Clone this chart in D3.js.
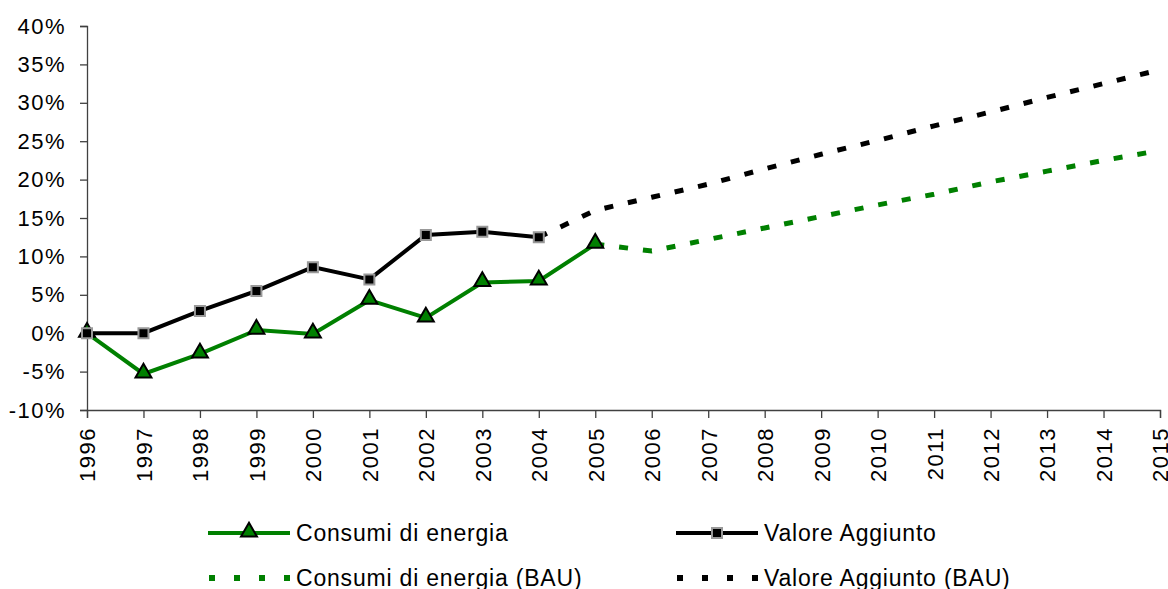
<!DOCTYPE html>
<html>
<head>
<meta charset="utf-8">
<script src="https://cdn.jsdelivr.net/npm/d3@7"></script>
<style>
  body { margin: 0; background: #fff; }
  text { font-family: "Liberation Sans", Arial, sans-serif; fill: #000; }
</style>
</head>
<body>
<div id="chart"></div>
<script>
// data
var years = ["1996","1997","1998","1999","2000","2001","2002","2003","2004","2005",
             "2006","2007","2008","2009","2010","2011","2012","2013","2014","2015"];

var consumiYears = years.slice(0, 10);
var consumi = [0, -5.3, -2.7, 0.4, -0.1, 4.3, 2.0, 6.6, 6.8, 11.6];

var valoreYears = years.slice(0, 9);
var valore = [0, 0, 2.9, 5.5, 8.6, 7.0, 12.8, 13.2, 12.5];

var consumiBauYears = years.slice(9);
var consumiBau = [11.6, 10.7, 12.2, 13.7, 15.2, 16.7, 18.1, 19.7, 21.1, 22.5, 23.8];

var valoreBauYears = years.slice(8);
var valoreBau = [12.5, 16.0, 17.7, 19.4, 21.4, 23.3, 25.1, 27.0, 28.8, 30.7, 32.5, 34.3];

var yTicks = [-10, -5, 0, 5, 10, 15, 20, 25, 30, 35, 40];

var legendNames = ["Consumi di energia", "Valore Aggiunto",
                   "Consumi di energia (BAU)", "Valore Aggiunto (BAU)"];

var green = "#008000";

var width = 1168, height = 589;
var margin = {top: 26, left: 87, right: 8, bottom: 179};

var svg = d3.select("#chart").append("svg")
    .attr("width", width)
    .attr("height", height);

var x = d3.scalePoint()
    .domain(years)
    .range([margin.left, width - margin.right]);

var y = d3.scaleLinear()
    .domain([-10, 40])
    .range([height - margin.bottom, margin.top]);

// axes
var yAxis = d3.axisLeft(y)
    .tickValues(yTicks)
    .tickSize(7)
    .tickPadding(14)
    .tickFormat(function(d) { return d + "%"; });

var xAxis = d3.axisBottom(x)
    .tickSize(8)
    .tickPadding(4);

var gy = svg.append("g")
    .attr("class", "axis")
    .attr("transform", "translate(" + margin.left + ",0)")
    .call(yAxis);

var gx = svg.append("g")
    .attr("class", "axis")
    .attr("transform", "translate(0," + y(-10) + ")")
    .call(xAxis);

gx.selectAll("text")
    .attr("transform", "rotate(-90)")
    .attr("x", -17)
    .attr("y", 0)
    .attr("dy", "0.36em")
    .style("text-anchor", "end");

svg.selectAll(".axis text")
    .style("font-size", "22px")
    .style("letter-spacing", "1.5px")
    .style("font-family", "'Liberation Sans', Arial, sans-serif")
    .attr("fill", "#000");

svg.selectAll(".axis path, .axis line")
    .style("stroke", "#404040")
    .style("stroke-width", "1.3px")
    .style("fill", "none");

function pairs(ys, vals) {
    return ys.map(function(d, i) { return {year: d, v: vals[i]}; });
}

var line = d3.line()
    .x(function(d) { return x(d.year); })
    .y(function(d) { return y(d.v); });

// BAU dashed lines
svg.append("path")
    .datum(pairs(consumiBauYears, consumiBau))
    .attr("d", line)
    .attr("fill", "none")
    .attr("stroke", green)
    .attr("stroke-width", 5)
    .attr("stroke-dasharray", "9,15");

svg.append("path")
    .datum(pairs(valoreBauYears, valoreBau))
    .attr("d", line)
    .attr("fill", "none")
    .attr("stroke", "#000")
    .attr("stroke-width", 5)
    .attr("stroke-dasharray", "9,15");

// solid lines
svg.append("path")
    .datum(pairs(consumiYears, consumi))
    .attr("d", line)
    .attr("fill", "none")
    .attr("stroke", green)
    .attr("stroke-width", 4);

var tri = d3.symbol().type(d3.symbolTriangle).size(110);
var sq = d3.symbol().type(d3.symbolSquare).size(100);

svg.selectAll(".tri")
    .data(pairs(consumiYears, consumi))
    .enter().append("path")
    .attr("class", "tri")
    .attr("d", tri)
    .attr("transform", function(d) { return "translate(" + x(d.year) + "," + (y(d.v) - 1) + ")"; })
    .attr("fill", green)
    .attr("stroke", "#000")
    .attr("stroke-width", 2);

svg.append("path")
    .datum(pairs(valoreYears, valore))
    .attr("d", line)
    .attr("fill", "none")
    .attr("stroke", "#000")
    .attr("stroke-width", 4);

svg.selectAll(".sq")
    .data(pairs(valoreYears, valore))
    .enter().append("path")
    .attr("class", "sq")
    .attr("d", sq)
    .attr("transform", function(d) { return "translate(" + x(d.year) + "," + y(d.v) + ")"; })
    .attr("fill", "#000")
    .attr("stroke", "#999")
    .attr("stroke-width", 2);

// legend
var legendPos = [[208, 533], [676, 533], [208, 578], [676, 578]];
var legend = svg.selectAll(".legend")
    .data(legendNames)
    .enter().append("g")
    .attr("class", "legend")
    .attr("transform", function(d, i) { return "translate(" + legendPos[i][0] + "," + legendPos[i][1] + ")"; });

legend.append("line")
    .attr("x1", 0)
    .attr("x2", 82)
    .attr("stroke", function(d, i) { return i % 2 == 0 ? green : "#000"; })
    .attr("stroke-width", function(d, i) { return i >= 2 ? 6 : 4; })
    .attr("stroke-dasharray", function(d, i) { return i >= 2 ? "6,19" : null; })
    .attr("stroke-dashoffset", function(d, i) { return i >= 2 ? -1 : null; });

legend.filter(function(d, i) { return i == 0; }).append("path")
    .attr("d", tri)
    .attr("transform", "translate(41,-1)")
    .attr("fill", green)
    .attr("stroke", "#000")
    .attr("stroke-width", 2);

legend.filter(function(d, i) { return i == 1; }).append("path")
    .attr("d", sq)
    .attr("transform", "translate(41,0)")
    .attr("fill", "#000")
    .attr("stroke", "#999")
    .attr("stroke-width", 2);

legend.append("text")
    .attr("x", 88)
    .attr("dy", "0.36em")
    .style("font-size", "23px")
    .style("letter-spacing", "0.8px")
    .text(function(d) { return d; });
</script>
</body>
</html>
